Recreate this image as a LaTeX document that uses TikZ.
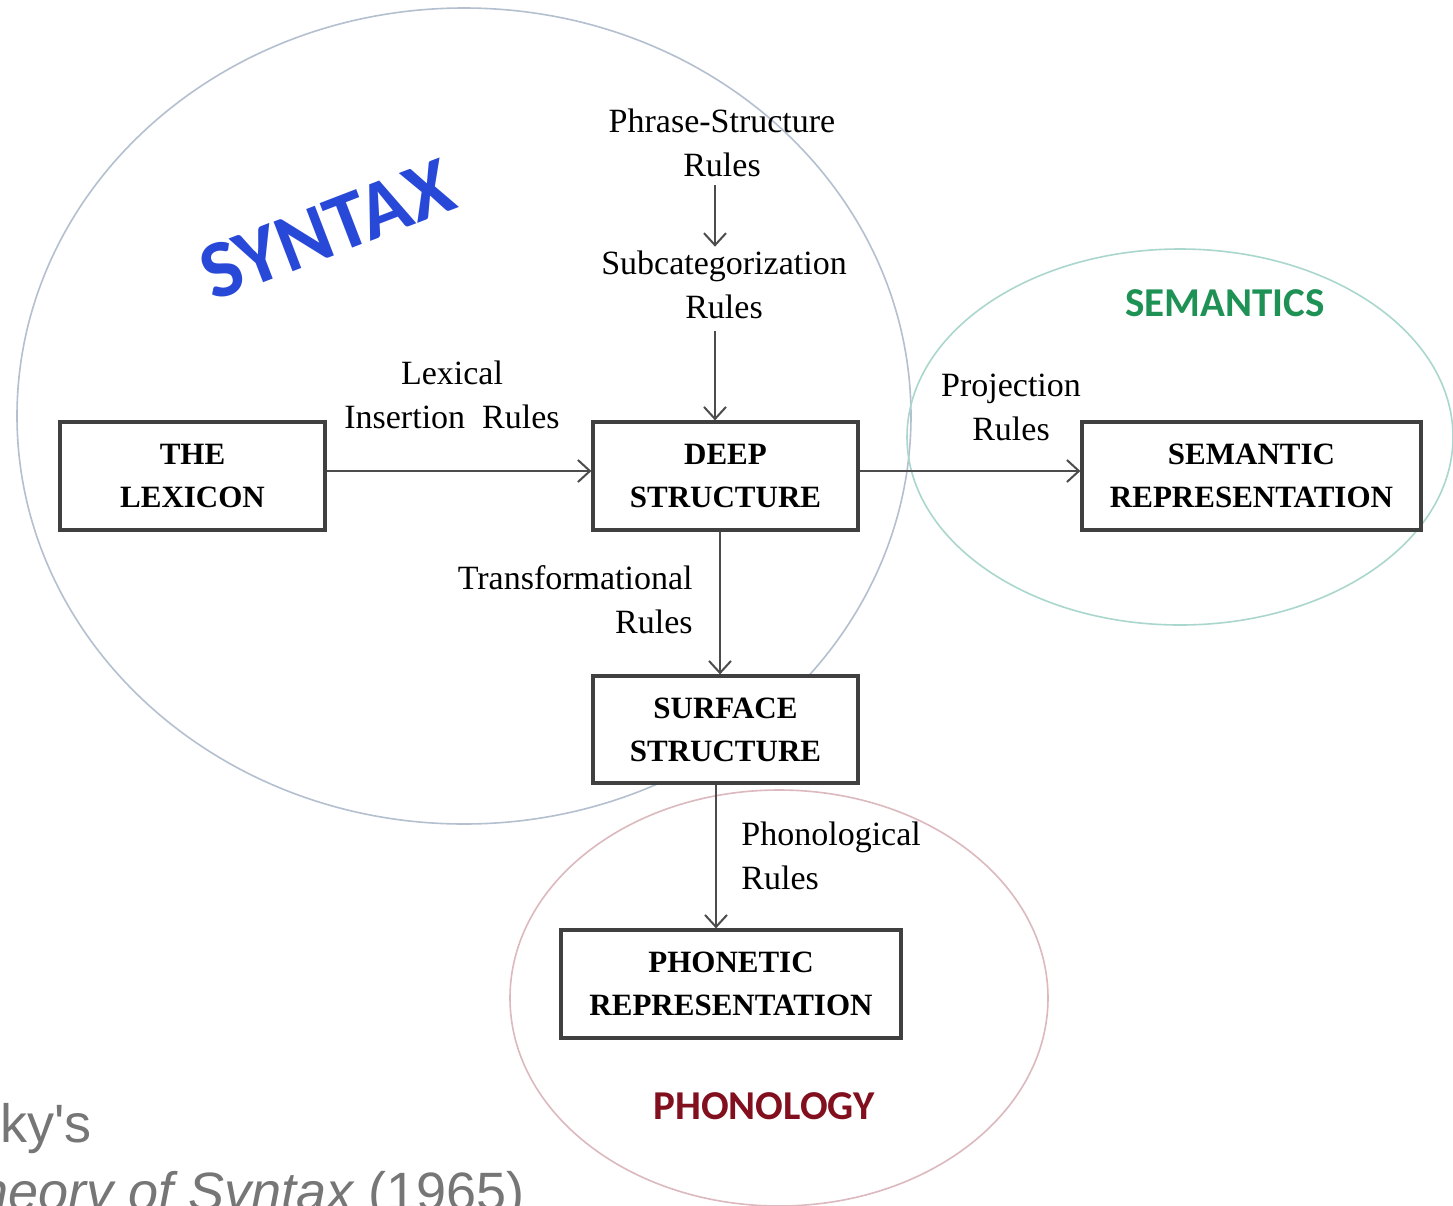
\documentclass[tikz,border=0pt]{standalone}
\usepackage{fontspec}
\setmainfont{Liberation Serif}
\newfontfamily\calib{Carlito}
\newfontfamily\arialf{Liberation Sans}
\usetikzlibrary{arrows.meta}
\definecolor{synblue}{RGB}{40,72,215}
\definecolor{semgreen}{RGB}{30,145,85}
\definecolor{phonred}{RGB}{130,15,30}
\definecolor{synline}{RGB}{180,192,208}
\definecolor{semline}{RGB}{170,215,205}
\definecolor{phonline}{RGB}{220,185,190}
\definecolor{capgray}{RGB}{118,118,118}
\tikzset{
  box/.style={draw=black!75, line width=1.6pt, fill=white, align=center,
    font=\fontsize{15.5}{21.5}\selectfont\bfseries, inner sep=0pt},
  lbl/.style={align=center, font=\fontsize{17}{22}\selectfont, inner sep=2pt},
  conn/.style={draw=black!70, line width=1.2pt, -{Straight Barb[length=6pt,width=11pt,line width=1pt]}},
  field/.style={line width=0.8pt},
  fieldname/.style={font=\calib\bfseries\fontsize{20.5}{24}\selectfont},
}
\begin{document}
\begin{tikzpicture}[x=0.5pt,y=-0.5pt]
\useasboundingbox (0,0) rectangle (1453,1206);
\fill[white] (0,0) rectangle (1453,1206);
% fields
\draw[field, synline] (464,416) ellipse [x radius=447, y radius=408];
\draw[field, semline] (1180,437) ellipse [x radius=273, y radius=188];
\draw[field, phonline] (779,998) ellipse [x radius=269, y radius=208];
% field names
\node[fieldname, text=synblue, rotate=21, font=\calib\bfseries\fontsize{41}{44}\selectfont] (syn) at (327,230) {SYNTAX};
\node[fieldname, text=semgreen] (semn) at (1225,303) {SEMANTICS};
\node[fieldname, text=phonred] (phonn) at (764,1106) {PHONOLOGY};
% boxes
\node[box, minimum width=132.5pt, minimum height=54pt] (lex) at (192.5,476) {THE\\LEXICON};
\node[box, minimum width=132.5pt, minimum height=54pt] (deep) at (725.5,476) {DEEP\\STRUCTURE};
\node[box, minimum width=169.5pt, minimum height=54pt] (sem) at (1251.5,476) {SEMANTIC\\REPRESENTATION};
\node[box, minimum width=132.5pt, minimum height=53.5pt] (surf) at (725.5,729.5) {SURFACE\\STRUCTURE};
\node[box, minimum width=170pt, minimum height=54pt] (phon) at (731,984) {PHONETIC\\REPRESENTATION};
% rule labels
\node[lbl] (ps) at (722,143) {Phrase-Structure\\Rules};
\node[lbl] (sub) at (724,285) {Subcategorization\\Rules};
\node[lbl] (lexins) at (452,395) {Lexical\\Insertion~~Rules};
\node[lbl] (proj) at (1011,407) {Projection\\Rules};
\node[lbl, align=right, anchor=east] (trans) at (697,600) {Transformational\\Rules};
\node[lbl, align=left, anchor=west] (phonrules) at (737,856) {Phonological\\Rules};
% connectors
\draw[conn] (ps.south) ++(-7,4) coordinate (psa) -- (psa |- sub.north);
\draw[conn] (sub.south) ++(-9,8) coordinate (suba) -- (suba |- deep.north);
\draw[conn] (lex.east |- 0,471) -- (deep.west |- 0,471);
\draw[conn] (deep.east |- 0,471) -- (sem.west |- 0,471);
\draw[conn] (deep.south -| 720,0) -- (surf.north -| 720,0);
\draw[conn] (surf.south -| 716,0) -- (phon.north -| 716,0);
% caption fragment
\node[anchor=base west, inner sep=0pt, text=capgray, font=\arialf\fontsize{27}{35}\selectfont] (cap1) at (0,1142) {ky's};
\node[anchor=base west, inner sep=0pt, text=capgray, font=\arialf\fontsize{27}{35}\selectfont] (cap2) at (-22,1210) {\itshape heory of Syntax\upshape{} (1965)};
\end{tikzpicture}
\end{document}
